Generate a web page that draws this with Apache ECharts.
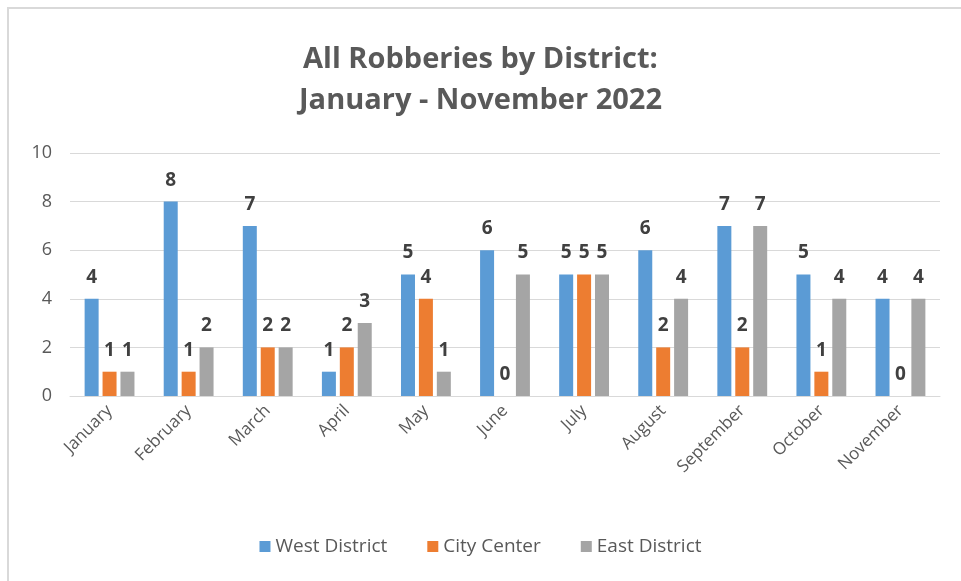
<!DOCTYPE html>
<html>
<head>
<meta charset="utf-8">
<script src="https://cdn.jsdelivr.net/npm/echarts@6/dist/echarts.min.js"></script>
<style>
html, body { margin: 0; padding: 0; background: #fff; }
#main { width: 961px; height: 581px; }
</style>
</head>
<body>
<div id="main"></div>
<script>
var months = ['January', 'February', 'March', 'April', 'May', 'June', 'July', 'August', 'September', 'October', 'November'];
var westDistrict = [4, 8, 7, 1, 5, 6, 5, 6, 7, 5, 4];
var cityCenter = [1, 1, 2, 2, 4, 0, 5, 2, 2, 1, 0];
var eastDistrict = [1, 2, 2, 3, 1, 5, 5, 4, 7, 4, 4];
var yTicks = [0, 2, 4, 6, 8, 10];

var fontFam = '"Open Sans", "Noto Sans", sans-serif';

//柱子标签
function barLabel() {
	return {
		show: true,
		position: 'top',
		distance: 12,
		color: '#404040',
		fontWeight: 'bold',
		fontSize: 19,
		fontFamily: fontFam
	};
}

function series(name, data, color) {
	return {
		name: name,
		type: 'bar',
		data: data,
		barWidth: 14,
		barGap: '28%',
		itemStyle: { color: color },
		label: barLabel()
	};
}

var chart = echarts.init(document.getElementById('main'));
chart.setOption({
	animation: false,
	backgroundColor: '#fff',
	title: {
		text: 'All Robberies by District:\nJanuary - November 2022',
		left: 'center',
		top: 34,
		textStyle: {
			fontSize: 29,
			fontWeight: 'bold',
			color: '#595959',
			lineHeight: 41,
			fontFamily: fontFam
		}
	},
	legend: {
		bottom: 20,
		left: 'center',
		itemWidth: 11,
		itemHeight: 11,
		itemGap: 40,
		icon: 'rect',
		textStyle: { fontSize: 19, color: '#595959', fontFamily: fontFam },
		data: ['West District', 'City Center', 'East District']
	},
	grid: {
		left: 70,
		right: 21,
		top: 153,
		bottom: 185
	},
	xAxis: {
		type: 'category',
		data: months,
		axisLine: { lineStyle: { color: '#D9D9D9' } },
		axisTick: { show: false },
		axisLabel: {
			rotate: 45,
			fontSize: 17,
			color: '#595959',
			margin: 12,
			fontFamily: fontFam
		}
	},
	yAxis: {
		type: 'value',
		min: yTicks[0],
		max: yTicks[yTicks.length - 1],
		interval: 2,
		axisLine: { show: false },
		axisTick: { show: false },
		splitLine: { lineStyle: { color: '#D9D9D9', width: 1 } },
		axisLabel: {
			fontSize: 18,
			color: '#595959',
			margin: 18,
			fontFamily: fontFam
		}
	},
	graphic: [
		{ type: 'rect', shape: { x: 7, y: 7, width: 954, height: 2 }, style: { fill: '#D9D9D9' } },
		{ type: 'rect', shape: { x: 7, y: 7, width: 2, height: 574 }, style: { fill: '#D9D9D9' } }
	],
	series: [
		series('West District', westDistrict, '#5B9BD5'),
		series('City Center', cityCenter, '#ED7D31'),
		series('East District', eastDistrict, '#A5A5A5')
	]
});
</script>
</body>
</html>
